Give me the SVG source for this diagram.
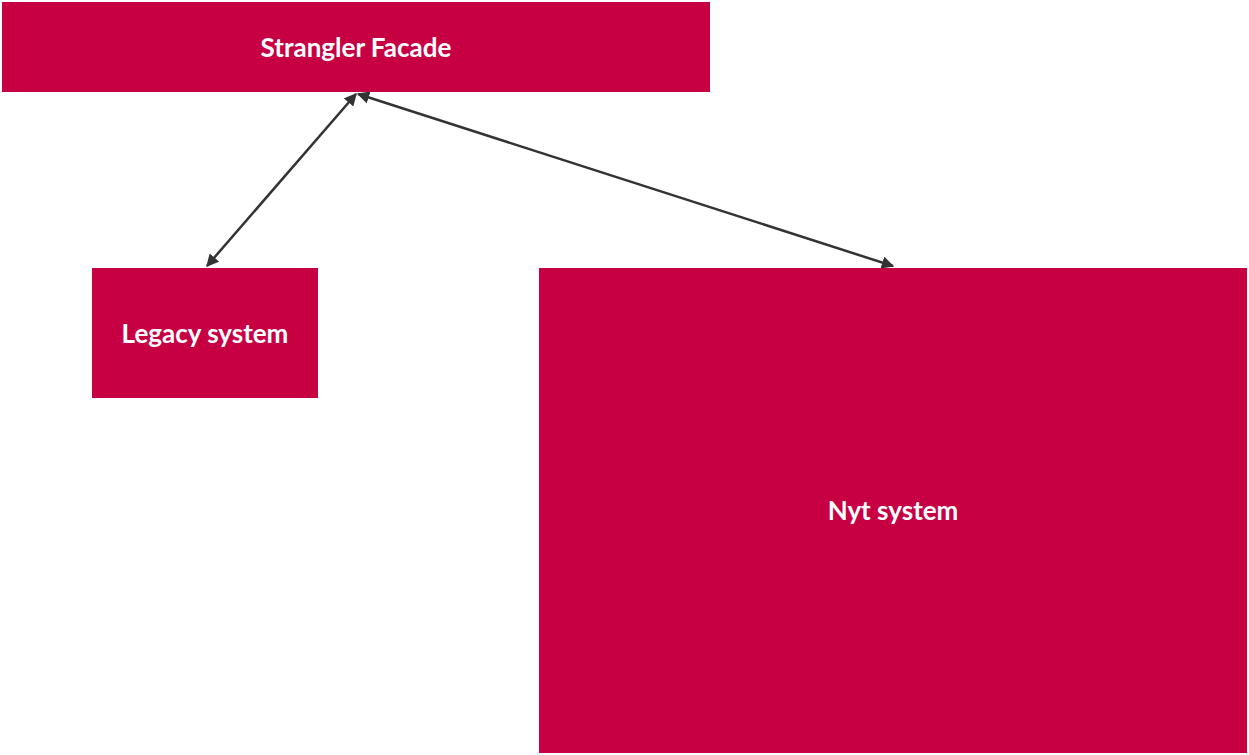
<svg xmlns="http://www.w3.org/2000/svg" width="1249" height="755" viewBox="0 0 1249 755">
<style>
.n{fill:#c70044}
.t{fill:#fff;font-family:Lato,"Liberation Sans",sans-serif;font-weight:bold;font-size:26px;text-anchor:middle;dominant-baseline:central}
.c{stroke:#333;stroke-width:2.5;fill:none;marker-start:url(#a);marker-end:url(#a)}
</style>
<defs><marker id="a" viewBox="0 0 10 10" refX="9" refY="5" markerWidth="5" markerHeight="5" orient="auto-start-reverse"><path d="M0,0L10,5L0,10z" fill="#333"/></marker></defs>
<rect width="1249" height="755" fill="#fff"/>
<g id="facade"><rect class="n" x="2" y="2" width="708" height="90"/><text class="t" x="356" y="47">Strangler Facade</text></g>
<g id="legacy"><rect class="n" x="92" y="268" width="226" height="130"/><text class="t" x="205" y="333">Legacy system</text></g>
<g id="nyt"><rect class="n" x="539" y="268" width="708" height="485"/><text class="t" x="893" y="510">Nyt system</text></g>
<g id="connectors">
<line class="c" x1="356" y1="94" x2="207" y2="266"/>
<line class="c" x1="358" y1="94" x2="893" y2="266"/>
</g>
</svg>
